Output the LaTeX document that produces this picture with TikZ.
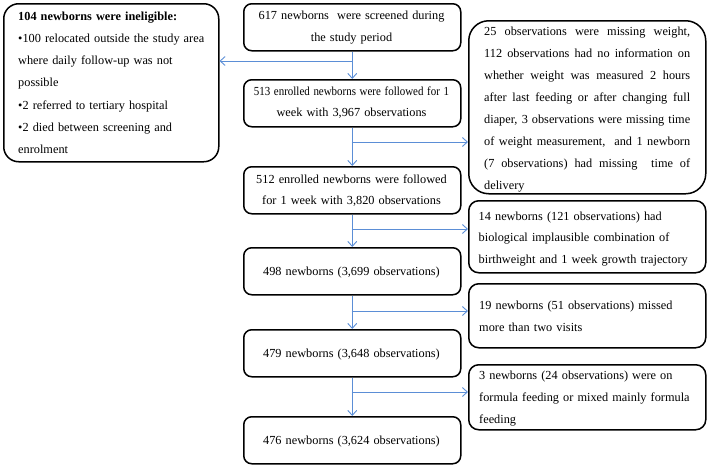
\documentclass[tikz,border=0pt]{standalone}
\usepackage{fontspec}
\usepackage{graphicx}
\setmainfont{Liberation Serif}
\usetikzlibrary{arrows.meta}
\definecolor{arrblue}{HTML}{5B8ED6}
\begin{document}
\begin{tikzpicture}[x=1pt,y=-1pt,
  box/.style={draw, line width=1.5pt, inner sep=0pt, anchor=north west},
  mainbox/.style={box, rounded corners=8pt, minimum width=217pt, minimum height=47pt},
  sidebox/.style={box, rounded corners=10pt, minimum width=237pt},
  txt/.style={font=\fontsize{12.3}{21.5}\selectfont, inner sep=0pt},
  ctxt/.style={txt, text width=250pt, align=center, anchor=base},
  ltxt/.style={txt, text width=222pt, align=left, anchor=base west},
  arr/.style={draw=arrblue, line width=0.9pt, -{Straight Barb[length=5pt,width=9pt]}}]
\useasboundingbox (0,0) rectangle (709,466);
% left box
\node[box, rounded corners=15pt, minimum width=215pt, minimum height=158pt] (L) at (3,3) {};
\node[ltxt, text width=198pt, font=\fontsize{12.3}{22.3}\selectfont] (Lt) at (18,20)
 {\textbf{104 newborns were ineligible:}\\
  •100 relocated outside the study area\\
  where daily follow-up was not\\
  possible\\
  •2 referred to tertiary hospital\\
  •2 died between screening and\\
  enrolment};
% main column
\node[mainbox] (b1) at (243,3) {};
\node[mainbox] (b2) at (243,79) {};
\node[mainbox] (b3) at (243,166) {};
\node[mainbox] (b4) at (243,247) {};
\node[mainbox] (b5) at (243,329) {};
\node[mainbox] (b6) at (243,416) {};
\node[ctxt, font=\fontsize{12.3}{22.3}\selectfont] (t1) at (351.5,19.5) {617 newborns\ \ were screened during\\the study period};
\node[ctxt, font=\fontsize{12.3}{21.2}\selectfont] (t2) at (351.5,95) {\scalebox{0.89}[1]{513 enrolled newborns were followed for 1}\\week with 3,967 observations};
\node[ctxt, font=\fontsize{12.3}{21.2}\selectfont] (t3) at (351.5,183) {512 enrolled newborns were followed\\for 1 week with 3,820 observations};
\node[ctxt] (t4) at (351.5,275.5) {498 newborns (3,699 observations)};
\node[ctxt] (t5) at (351.5,357) {479 newborns (3,648 observations)};
\node[ctxt] (t6) at (351.5,444) {476 newborns (3,624 observations)};
% right column
\node[box, rounded corners=20pt, minimum width=237pt, minimum height=173pt] (r1) at (468,20) {};
\node[sidebox, minimum height=72pt] (r2) at (468,200) {};
\node[sidebox, minimum height=64pt] (r3) at (468,283) {};
\node[sidebox, minimum height=65pt] (r4) at (468,364) {};
\node[txt, font=\fontsize{12.3}{22.1}\selectfont, text width=206pt, align=justify, anchor=base west] (rt1) at (484,35)
 {\tolerance=10000 25 observations were missing weight,\linebreak
  112 observations had no information on\linebreak
  whether weight was measured 2 hours\linebreak
  after last feeding or after changing full\linebreak
  diaper, 3 observations were missing time\linebreak
  of weight measurement,\ \ and 1 newborn\linebreak
  (7 observations) had missing\ \ time of\linebreak
  delivery};
\node[ltxt] (rt2) at (478.5,220)
 {14 newborns (121 observations) had\\biological implausible combination of\\birthweight and 1 week growth trajectory};
\node[ltxt, font=\fontsize{12.3}{22}\selectfont] (rt3) at (479,309)
 {19 newborns (51 observations) missed\\more than two visits};
\node[ltxt, font=\fontsize{12.3}{22}\selectfont] (rt4) at (479,379)
 {3 newborns (24 observations) were on\\formula feeding or mixed mainly formula\\feeding};
% connectors
\coordinate (j1) at (351.5,61);
\coordinate (j2) at (351.5,142);
\coordinate (j3) at (351.5,229);
\coordinate (j4) at (351.5,311);
\coordinate (j5) at (351.5,392);
\draw[arr] (b1.south) -- (b2.north);
\draw[arr] (j1) -- (L.east |- j1);
\draw[arr] (b2.south) -- (b3.north);
\draw[arr] (j2) -- (r1.west |- j2);
\draw[arr] (b3.south) -- (b4.north);
\draw[arr] (j3) -- (r2.west |- j3);
\draw[arr] (b4.south) -- (b5.north);
\draw[arr] (j4) -- (r3.west |- j4);
\draw[arr] (b5.south) -- (b6.north);
\draw[arr] (j5) -- (r4.west |- j5);
\end{tikzpicture}
\end{document}
